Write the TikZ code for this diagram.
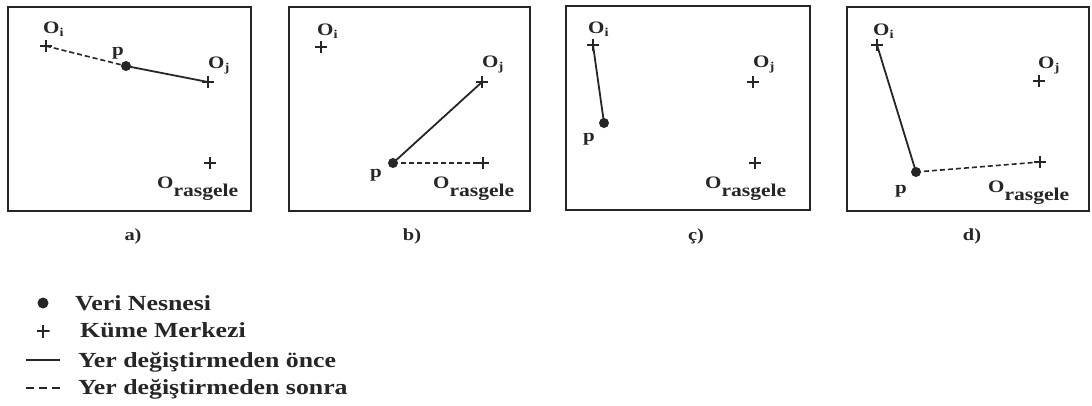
\documentclass[tikz,border=0pt]{standalone}
\usepackage{fontspec}
\setmainfont[FakeStretch=1.2]{Liberation Serif}
\usepackage{tikz}
\usetikzlibrary{positioning}
\definecolor{scanink}{HTML}{262626}

% O with a lowered index, as in the scanned figure
\newcommand{\Oetiket}[3]{O\raisebox{-#1}{\fontsize{#2}{#2}\selectfont #3}}

\begin{document}
\begin{tikzpicture}[x=1pt, y=-1pt, scanink,
    cerceve/.style={draw=scanink, line width=2pt},
    veri/.style={circle, fill=scanink, inner sep=0pt, minimum size=10pt},
    kume/.style={inner sep=0pt, minimum size=12pt,
      path picture={\draw[line width=1.6pt]
        (path picture bounding box.west) -- (path picture bounding box.east)
        (path picture bounding box.north) -- (path picture bounding box.south);}},
    etiket/.style={inner sep=0pt, anchor=base west, text=scanink,
      font=\bfseries\fontsize{17.5}{17.5}\selectfont},
    altyazi/.style={inner sep=0pt, text=scanink, font=\bfseries\fontsize{17}{17}\selectfont},
    once/.style={draw=scanink, line width=1.8pt},
    sonra/.style={draw=scanink, line width=1.6pt, dash pattern=on 5pt off 3pt},
    aciklama/.style={inner sep=0pt, anchor=base west, text=scanink,
      font=\bfseries\fontsize{21.5}{21.5}\selectfont}]
  \useasboundingbox (0,0) rectangle (1092,405);

  % a)
  \draw[cerceve] (8,7) rectangle (251,211);
  \node[kume] (ai) at (46,46) {};
  \node[kume] (aj) at (208,82) {};
  \node[kume] (ar) at (210,163) {};
  \node[veri] (ap) at (126,66) {};
  \node[etiket] (ai-l) at (43,33) {\Oetiket{3pt}{12}{i}};
  \node[etiket] (aj-l) at (208,68) {\Oetiket{3pt}{12}{j}};
  \node[etiket] (ar-l) at (157,188) {\Oetiket{8pt}{18}{rasgele}};
  \node[etiket] (ap-l) at (112,55) {p};
  \draw[sonra] (ai.center) -- (ap.center);
  \draw[once] (ap.center) -- (aj.center);
  \node[altyazi] (a-cap) at (133,236) {a)};

  % b)
  \draw[cerceve] (289,7) rectangle (530,211);
  \node[kume] (bi) at (321,47) {};
  \node[kume] (bj) at (482,82) {};
  \node[kume] (br) at (483,163) {};
  \node[veri] (bp) at (393,163) {};
  \node[etiket] (bi-l) at (317,35) {\Oetiket{3pt}{12}{i}};
  \node[etiket] (bj-l) at (482,67) {\Oetiket{3pt}{12}{j}};
  \node[etiket] (br-l) at (433,188) {\Oetiket{8pt}{18}{rasgele}};
  \node[etiket] (bp-l) at (370,177) {p};
  \draw[once] (bp.center) -- (bj.center);
  \draw[sonra] (bp.center) -- (br.center);
  \node[altyazi] (b-cap) at (412,236) {b)};

  % ç)
  \draw[cerceve] (566,6) rectangle (810,210);
  \node[kume] (ci) at (593,45) {};
  \node[kume] (cj) at (753,82) {};
  \node[kume] (cr) at (755,163) {};
  \node[veri] (cp) at (604,123) {};
  \node[etiket] (ci-l) at (588,33) {\Oetiket{3pt}{12}{i}};
  \node[etiket] (cj-l) at (753,67) {\Oetiket{3pt}{12}{j}};
  \node[etiket] (cr-l) at (705,188) {\Oetiket{8pt}{18}{rasgele}};
  \node[etiket] (cp-l) at (583,141) {p};
  \draw[once] (ci.center) -- (cp.center);
  \node[altyazi] (c-cap) at (696,236) {ç)};

  % d)
  \draw[cerceve] (847,7) rectangle (1089,211);
  \node[kume] (di) at (877,45) {};
  \node[kume] (dj) at (1039,81) {};
  \node[kume] (dr) at (1040,162) {};
  \node[veri] (dp) at (916,172) {};
  \node[etiket] (di-l) at (873,35) {\Oetiket{3pt}{12}{i}};
  \node[etiket] (dj-l) at (1038,68) {\Oetiket{3pt}{12}{j}};
  \node[etiket] (dr-l) at (988,192) {\Oetiket{8pt}{18}{rasgele}};
  \node[etiket] (dp-l) at (895,193) {p};
  \draw[once] (di.center) -- (dp.center);
  \draw[sonra] (dp.center) -- (dr.center);
  \node[altyazi] (d-cap) at (972,236) {d)};

  % legend
  \node[veri, minimum size=11pt] (l-veri) at (43,303) {};
  \node[kume, minimum size=13pt] (l-kume) at (43,331) {};
  \coordinate (l-once-a) at (26,360);
  \coordinate (l-once-b) at (60,360);
  \coordinate (l-sonra-a) at (26,388);
  \coordinate (l-sonra-b) at (60,388);
  \draw[once] (l-once-a) -- (l-once-b);
  \draw[sonra, dash pattern=on 8pt off 5pt] (l-sonra-a) -- (l-sonra-b);
  \node[aciklama] (t-veri) at (75,310) {Veri Nesnesi};
  \node[aciklama] (t-kume) at (80,337) {Küme Merkezi};
  \node[aciklama] (t-once) at (78,367) {Yer değiştirmeden önce};
  \node[aciklama] (t-sonra) at (78,394) {Yer değiştirmeden sonra};
\end{tikzpicture}
\end{document}
